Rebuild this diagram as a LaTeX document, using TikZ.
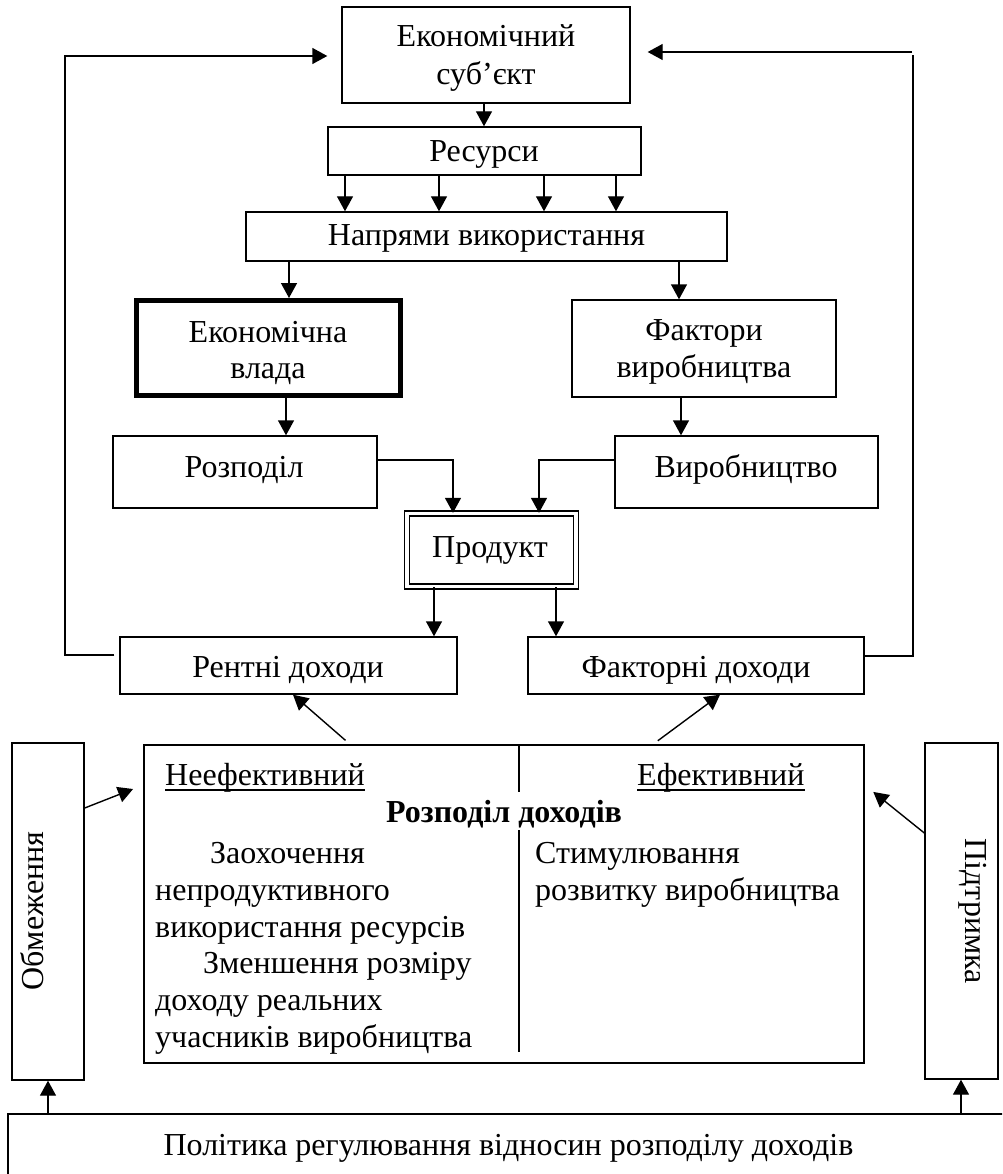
\documentclass[tikz,border=0pt]{standalone}
\usepackage{fontspec}
\setmainfont{Liberation Serif}
\usetikzlibrary{arrows.meta,calc}
\newcommand{\diagfs}{\fontsize{32}{38}\selectfont}
\begin{document}
\begin{tikzpicture}[x=1pt,y=-1pt,
  box/.style={draw, line width=1.4pt, inner sep=0pt, rectangle},
  arr/.style={line width=1.4pt, -{Triangle[length=15pt,width=16pt]}},
  ln/.style={line width=1.4pt},
  lbl/.style={anchor=base, inner sep=0pt, font=\diagfs},
  lblw/.style={anchor=base west, inner sep=0pt, font=\diagfs},
]
\useasboundingbox (0,0) rectangle (1002,1174);
\clip (0,0) rectangle (1002,1174);

% boxes
\node[box, minimum width=288pt, minimum height=96pt] (subj) at (486,55) {};
\node[box, minimum width=313pt, minimum height=48pt] (res) at (484.5,151) {};
\node[box, minimum width=481pt, minimum height=49pt] (dir) at (486.5,236.5) {};
\node[box, line width=5pt, minimum width=264pt, minimum height=95pt] (power) at (268.5,348) {};
\node[box, minimum width=264pt, minimum height=97pt] (fact) at (704,348.5) {};
\node[box, minimum width=264pt, minimum height=72pt] (distr) at (245,472) {};
\node[box, minimum width=263pt, minimum height=72pt] (prod) at (746.5,472) {};
\node[draw, line width=1.3pt, double, double distance=3.6pt, inner sep=0pt, minimum width=169.5pt, minimum height=73pt] (product) at (491.5,550) {};
\node[box, minimum width=337pt, minimum height=57pt] (rent) at (288.5,665.5) {};
\node[box, minimum width=336pt, minimum height=57pt] (finc) at (696,665.5) {};
\node[box, minimum width=72pt, minimum height=337pt] (lim) at (48,911.5) {};
\node[box, minimum width=720pt, minimum height=318pt] (main) at (504,904) {};
\node[box, minimum width=73pt, minimum height=336pt] (supp) at (961.5,911) {};
\node[box, minimum width=1010pt, minimum height=80pt] (policy) at (513,1154) {};

% texts
\node[lbl] (t1a) at (486,47) {Економічний};
\node[lbl] (t1b) at (486,85) {суб’єкт};
\node[lbl] (t2) at (484,162) {Ресурси};
\node[lbl] (t3) at (486.5,245) {Напрями використання};
\node[lbl] (t4a) at (268,342) {Економічна};
\node[lbl] (t4b) at (268,378) {влада};
\node[lbl] (t5a) at (704,340) {Фактори};
\node[lbl] (t5b) at (704,377) {виробництва};
\node[lbl] (t6) at (244,477) {Розподіл};
\node[lbl] (t7) at (746,477) {Виробництво};
\node[lbl] (t8) at (490,557) {Продукт};
\node[lbl] (t9) at (288,677) {Рентні доходи};
\node[lbl] (t10) at (696,677) {Факторні доходи};
\node[lblw] (neef) at (165,785) {Неефективний};
\node[lblw] (ef) at (637,785) {Ефективний};
\draw[line width=1.5pt] ($(neef.base west)+(0,5)$) -- ($(neef.base east)+(0,5)$);
\draw[line width=1.5pt] ($(ef.base west)+(0,5)$) -- ($(ef.base east)+(0,5)$);
\node[lbl, font=\diagfs\bfseries] (rd) at (504,822) {Розподіл доходів};
\node[lblw] (l1) at (210,863) {Заохочення};
\node[lblw] (l2) at (155,900) {непродуктивного};
\node[lblw] (l3) at (155,937) {використання ресурсів};
\node[lblw] (l4) at (203,973) {Зменшення розміру};
\node[lblw] (l5) at (155,1010) {доходу реальних};
\node[lblw] (l6) at (155,1047) {учасників виробництва};
\node[lblw] (r1) at (535,863) {Стимулювання};
\node[lblw] (r2) at (535,900) {розвитку виробництва};
\node[lbl, rotate=90] (tlim) at (43,911) {Обмеження};
\node[lbl, rotate=-90] (tsupp) at (965,911) {Підтримка};
\node[lbl] (tpol) at (508.5,1155) {Політика регулювання відносин розподілу доходів};

% divider in main box
\draw[ln] (main.north -| 519,0) -- (519,792);
\draw[ln] (519,830) -- (519,1052);

% connectors
\draw[arr] (subj.south -| 484,0) -- (res.north -| 484,0);
\foreach \xx in {345,439,544,616}
  \draw[arr] (res.south -| \xx,0) -- (dir.north -| \xx,0);
\draw[arr] (dir.south -| 289,0) -- (power.north -| 289,0);
\draw[arr] (dir.south -| 679,0) -- (fact.north -| 679,0);
\draw[arr] (power.south -| 286,0) -- (distr.north -| 286,0);
\draw[arr] (fact.south -| 681,0) -- (prod.north -| 681,0);
\draw[arr] (distr.east |- 0,460) -- (453,460) -- (product.north -| 453,0);
\draw[arr] (prod.west |- 0,460) -- (539,460) -- (product.north -| 539,0);
\draw[arr] (product.south -| 434,0) -- (rent.north -| 434,0);
\draw[arr] (product.south -| 556,0) -- (finc.north -| 556,0);
\draw[arr, shorten >=14pt, shorten <=5pt] (rent.west |- 0,655) -- (65,655) -- (65,56) -- (subj.west |- 0,56);
\draw[ln] (finc.east |- 0,656) -- (913,656) -- (913,55);
\draw[arr, shorten >=17pt] (912,52) -- (subj.east |- 0,52);
\draw[arr, shorten <=6pt] (main.north -| 350,0) -- (rent.south -| 293,0);
\draw[arr, shorten <=6pt] (main.north -| 653,0) -- (finc.south -| 720,0);
\draw[arr, shorten >=11pt] (lim.east |- 0,808) -- (main.west |- 0,785);
\draw[arr, shorten >=11pt] (supp.west |- 0,833) -- (main.east |- 0,785);
\draw[arr] (policy.north -| 48,0) -- (lim.south -| 48,0);
\draw[arr] (policy.north -| 961,0) -- (supp.south -| 961,0);
\end{tikzpicture}
\end{document}
